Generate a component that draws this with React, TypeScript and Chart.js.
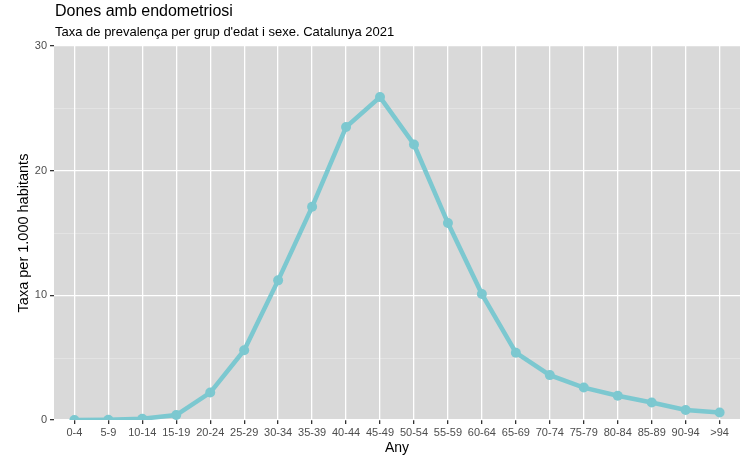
import React, { useEffect, useRef } from "react";
import { Chart, registerables } from "chart.js";

Chart.register(...registerables);

const ageGroups = ["0-4","5-9","10-14","15-19","20-24","25-29","30-34","35-39","40-44","45-49","50-54","55-59","60-64","65-69","70-74","75-79","80-84","85-89","90-94",">94"];
const rates = [0.0, 0.02, 0.1, 0.4, 2.2, 5.6, 11.2, 17.1, 23.5, 25.9, 22.1, 15.8, 10.1, 5.4, 3.6, 2.6, 1.95, 1.4, 0.8, 0.6];
const yTicks = [0, 10, 20, 30];
const yMinor = [5, 15, 25];
const titleText = "Dones amb endometriosi";
const subtitleText = "Taxa de prevalença per grup d'edat i sexe. Catalunya 2021";
const FONT = "'Liberation Sans', Arial, sans-serif";

const panelPlugin = {
  id: "panel",
  beforeDraw(chart: any) {
    const { ctx, chartArea: a, scales } = chart;
    ctx.save();
    ctx.fillStyle = "#D9D9D9";
    ctx.fillRect(a.left, a.top, a.right - a.left, a.bottom - a.top);
    ctx.strokeStyle = "#E6E6E6";
    ctx.lineWidth = 0.8;
    for (const v of yMinor) {
      const y = Math.round(scales.y.getPixelForValue(v)) + 0.5;
      ctx.beginPath();
      ctx.moveTo(a.left, y);
      ctx.lineTo(a.right, y);
      ctx.stroke();
    }
    ctx.restore();
  },
  afterDraw(chart: any) {
    const { ctx } = chart;
    ctx.save();
    ctx.fillStyle = "#000";
    ctx.textBaseline = "middle";
    ctx.textAlign = "left";
    ctx.font = `16px ${FONT}`;
    ctx.fillText(titleText, 55, 12);
    ctx.font = `13px ${FONT}`;
    ctx.fillText(subtitleText, 55, 32);
    ctx.restore();
  },
};

export default function App() {
  const ref = useRef<HTMLCanvasElement>(null);
  useEffect(() => {
    document.body.style.margin = "0";
    const chart = new Chart(ref.current!, {
      type: "line",
      data: {
        datasets: [
          {
            data: rates.map((v, i) => ({ x: i, y: v })),
            borderColor: "#7CC8D0",
            backgroundColor: "#7CC8D0",
            borderWidth: 4.5,
            pointRadius: 5,
            pointHoverRadius: 5,
            pointBorderWidth: 0,
            tension: 0,
          },
        ],
      },
      options: {
        animation: false,
        responsive: false,
        layout: { padding: { left: 0, right: 5, top: 46, bottom: 0 } },
        plugins: { legend: { display: false }, tooltip: { enabled: false } },
        scales: {
          x: {
            type: "linear",
            min: -0.6,
            max: ageGroups.length - 1 + 0.6,
            afterBuildTicks(scale: any) {
              scale.ticks = ageGroups.map((_, i) => ({ value: i }));
            },
            afterFit(scale: any) {
              scale.height = 36;
            },
            ticks: {
              autoSkip: false,
              maxRotation: 0,
              minRotation: 0,
              padding: 2,
              color: "#4D4D4D",
              font: { family: FONT, size: 11 },
              callback: (v: any) => ageGroups[Math.round(Number(v))] ?? "",
            },
            grid: {
              color: "#FFFFFF",
              lineWidth: 1.3,
              tickColor: "#333333",
              tickLength: 4,
              drawTicks: true,
            },
            border: { display: false },
            title: {
              display: true,
              text: "Any",
              color: "#000",
              font: { family: FONT, size: 14 },
              padding: { top: 0, bottom: -1 },
            },
          },
          y: {
            min: 0,
            max: 30,
            afterBuildTicks(scale: any) {
              scale.ticks = yTicks.map((v) => ({ value: v }));
            },
            afterFit(scale: any) {
              scale.width = 54;
            },
            ticks: {
              padding: 3,
              color: "#4D4D4D",
              font: { family: FONT, size: 11 },
            },
            grid: {
              color: "#FFFFFF",
              lineWidth: 1.3,
              tickColor: "#333333",
              tickLength: 4,
              drawTicks: true,
            },
            border: { display: false },
            title: {
              display: true,
              text: "Taxa per 1.000 habitants",
              color: "#000",
              font: { family: FONT, size: 14.5 },
              padding: { top: 15, bottom: 4 },
            },
          },
        },
      },
      plugins: [panelPlugin],
    } as any);
    return () => chart.destroy();
  }, []);
  return (
    <div style={{ width: 745, height: 456 }}>
      <canvas ref={ref} width={745} height={456} style={{ display: "block" }} />
    </div>
  );
}
